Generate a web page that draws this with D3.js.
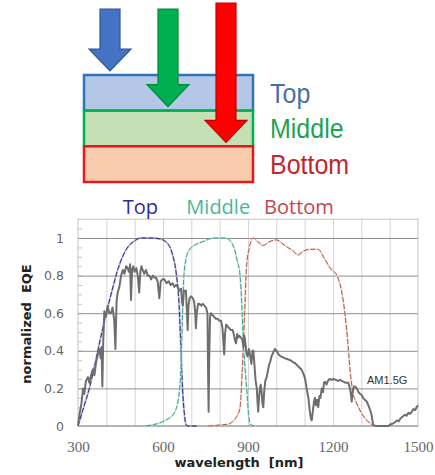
<!DOCTYPE html>
<html lang="en">
	<head>
		<meta charset="utf-8">
		<title>Triple junction EQE</title>
		<script type="text/javascript" src="https://cdn.jsdelivr.net/npm/d3@7"></script>
		<style type="text/css">
			body { margin: 0; background: #fff; }
			svg { display: block; }
		</style>
	</head>
	<body>

		<div id="chart"></div>

		<script type="text/javascript">

		// layers of the cell
		var layers = ["Top", "Middle", "Bottom"]

		// axis ticks
		var wavelengthTicks = [300, 600, 900, 1200, 1500]
		var eqeTicks = [0, 0.2, 0.4, 0.6, 0.8, 1]

		// normalized EQE of each sub cell, [nm, value]
		var topEQE = [[300,0],[320,0.1],[340,0.2],[360,0.33],[380,0.47],[400,0.6],[420,0.72],[440,0.83],
			[460,0.91],[480,0.96],[500,0.985],[520,1],[560,1],[590,0.995],[610,0.98],[625,0.95],[634,0.91],
			[646,0.82],[657,0.64],[663,0.42],[669,0.2],[675,0.07],[682,0.005],[690,0],[720,0]]

		var middleEQE = [[540,0],[560,0.005],[595,0.02],[620,0.04],[640,0.07],[655,0.15],[663,0.3],[668,0.55],
			[673,0.78],[680,0.88],[690,0.93],[710,0.96],[740,0.98],[780,1],[820,1],[840,0.98],[850,0.95],
			[862,0.88],[872,0.8],[878,0.65],[883,0.46],[890,0.3],[896,0.19],[902,0.06],[910,0.005],[930,0]]

		var bottomEQE = [[760,0],[800,0.005],[830,0.01],[860,0.05],[872,0.1],[880,0.3],[888,0.6],[895,0.85],
			[905,0.95],[918,1],[935,0.98],[953,0.96],[975,0.98],[1000,0.99],[1030,0.96],[1060,0.93],[1076,0.91],
			[1095,0.93],[1120,0.94],[1147,0.94],[1170,0.89],[1190,0.84],[1214,0.8],[1230,0.72],[1242,0.6],
			[1252,0.45],[1260,0.3],[1270,0.18],[1284,0.12],[1300,0.07],[1320,0.03],[1340,0.005],[1360,0]]

		// AM1.5G spectrum, [nm, value]
		var am15g = [[300,0],[305,0.06],[312,0.12],[318,0.2],[322,0.17],[328,0.24],[335,0.26],[340,0.23],[346,0.27],
			[352,0.3],[358,0.27],[364,0.34],[370,0.38],[375,0.41],[380,0.36],[383,0.42],[386,0.21],[389,0.45],
			[393,0.61],[398,0.58],[405,0.64],[410,0.6],[416,0.6],[422,0.63],[428,0.56],[432,0.41],[436,0.66],
			[440,0.71],[446,0.74],[452,0.8],[458,0.83],[464,0.81],[470,0.85],[475,0.84],[480,0.82],[484,0.86],
			[487,0.67],[491,0.83],[495,0.85],[500,0.82],[506,0.84],[511,0.8],[516,0.71],[520,0.82],[524,0.85],
			[528,0.83],[534,0.81],[540,0.83],[546,0.8],[552,0.8],[558,0.78],[564,0.8],[570,0.79],[575,0.79],
			[581,0.77],[587,0.68],[592,0.77],[598,0.78],[605,0.78],[612,0.76],[620,0.77],[627,0.75],[634,0.76],
			[640,0.74],[646,0.75],[652,0.74],[658,0.72],[664,0.73],[667,0.66],[670,0.64],[674,0.72],[681,0.72],
			[684,0.62],[687,0.51],[690,0.64],[694,0.68],[699,0.69],[705,0.68],[710,0.66],[714,0.6],[716,0.52],
			[719,0.6],[724,0.65],[728,0.65],[735,0.64],[740,0.65],[746,0.64],[752,0.63],[757,0.6],[759,0.3],
			[761,0.076],[763,0.35],[766,0.58],[769,0.6],[775,0.59],[781,0.58],[787,0.57],[793,0.57],[799,0.56],
			[805,0.56],[810,0.52],[813,0.45],[816,0.38],[819,0.49],[823,0.54],[828,0.53],[834,0.52],[840,0.51],
			[846,0.51],[851,0.48],[855,0.45],[858,0.44],[862,0.49],[865,0.47],[869,0.48],[875,0.47],[880,0.46],
			[884,0.42],[887,0.48],[891,0.44],[895,0.38],[899,0.37],[903,0.41],[907,0.38],[912,0.33],[916,0.4],
			[919,0.4],[923,0.32],[927,0.24],[931,0.2],[934,0.12],[936,0.076],[939,0.15],[942,0.2],[945,0.22],
			[948,0.18],[951,0.12],[954,0.1],[957,0.18],[961,0.24],[966,0.26],[971,0.3],[975,0.33],[978,0.34],
			[983,0.37],[989,0.39],[995,0.41],[1001,0.4],[1008,0.38],[1016,0.37],[1024,0.365],[1031,0.36],
			[1040,0.355],[1050,0.35],[1058,0.34],[1066,0.335],[1075,0.32],[1082,0.31],[1089,0.3],[1095,0.28],
			[1101,0.255],[1107,0.2],[1113,0.15],[1118,0.08],[1122,0.04],[1125,0.03],[1129,0.08],[1133,0.13],
			[1136,0.15],[1140,0.11],[1144,0.14],[1148,0.1],[1152,0.16],[1156,0.15],[1160,0.2],[1165,0.18],
			[1168,0.23],[1172,0.235],[1177,0.22],[1182,0.24],[1188,0.25],[1195,0.245],[1202,0.25],[1210,0.245],
			[1218,0.24],[1225,0.245],[1231,0.24],[1238,0.235],[1245,0.23],[1254,0.23],[1260,0.2],[1264,0.16],
			[1266,0.13],[1269,0.18],[1274,0.21],[1278,0.21],[1284,0.2],[1290,0.18],[1296,0.17],[1301,0.165],
			[1306,0.15],[1312,0.14],[1319,0.13],[1325,0.11],[1331,0.085],[1336,0.06],[1339,0.03],[1342,0.005],
			[1350,0],[1395,0],[1402,0.008],[1410,0.012],[1419,0.02],[1426,0.03],[1432,0.025],[1438,0.04],
			[1446,0.05],[1454,0.06],[1460,0.055],[1466,0.07],[1472,0.065],[1478,0.076],[1484,0.09],[1490,0.085],
			[1495,0.1],[1500,0.11]]

		drawChart()

		function drawChart(){

			var w = 435
			var h = 475

			var svg = d3.select("#chart")
					.append("svg")
					.attr("width", w)
					.attr("height", h)

			// ---------- layer stack sketch ----------
			var fills = ["#b4c7e7", "#c5e0b4", "#f8cbad"]
			var strokes = ["#2e75b6", "#00b050", "#e3191c"]
			var arrowFill = ["#4472c4", "#00b050", "#ff0000"]
			var arrowStroke = ["#2f5597", "#00853b", "#c00000"]
			var labelColor = ["#4a6ea6", "#1fa252", "#c0262b"]

			var layerY = d3.scaleBand()
				.domain(layers)
				.range([75, 182])

			var arrowX = d3.scalePoint()
				.domain(layers)
				.range([110, 226])

			svg.selectAll("rect.layer")
				.data(layers)
				.enter()
				.append("rect")
				.attr("class", "layer")
				.attr("x", 84)
				.attr("y", function(d){ return layerY(d) })
				.attr("width", 169)
				.attr("height", layerY.bandwidth())
				.style("fill", function(d, i){ return fills[i] })
				.style("stroke", function(d, i){ return strokes[i] })
				.style("stroke-width", 2.5)

			svg.selectAll("text.layer")
				.data(layers)
				.enter()
				.append("text")
				.attr("class", "layer")
				.attr("transform", function(d){
					return "translate(270," + (layerY(d) + layerY.bandwidth() - 8) + ") scale(1,1.1)"
				})
				.style("font-family", "Liberation Sans, Arial, sans-serif")
				.style("font-size", "25px")
				.style("fill", function(d, i){ return labelColor[i] })
				.text(function(d){ return d })

			// arrows, each one stops above its own layer
			svg.selectAll("path.arrow")
				.data(layers)
				.enter()
				.append("path")
				.attr("class", "arrow")
				.attr("d", function(d, i){
					var cx = arrowX(d)
					var tip = layerY(d) - 4
					var top = i == 2 ? 3 : 9
					var sw = 10, hw = 21, hh = 22
					return "M" + (cx - sw) + "," + top +
						"L" + (cx + sw) + "," + top +
						"L" + (cx + sw) + "," + (tip - hh) +
						"L" + (cx + hw) + "," + (tip - hh) +
						"L" + cx + "," + tip +
						"L" + (cx - hw) + "," + (tip - hh) +
						"L" + (cx - sw) + "," + (tip - hh) + "Z"
				})
				.style("fill", function(d, i){ return arrowFill[i] })
				.style("stroke", function(d, i){ return arrowStroke[i] })
				.style("stroke-width", 1.2)

			// ---------- EQE plot ----------
			var xScale = d3.scaleLinear()
				.domain([300, 1500])
				.range([78, 418])

			var yScale = d3.scaleLinear()
				.domain([0, 1.1])
				.range([426, 219.2])

			// vertical grid every 100 nm
			svg.append("g")
				.attr("class", "vgrid")
				.attr("transform", "translate(0," + yScale(0) + ")")
				.call(d3.axisBottom(xScale).tickValues(d3.range(400, 1500, 100)).tickSize(yScale(0) - yScale(1.1)).tickFormat(""))
				.call(function(g){
					g.select(".domain").remove()
					g.selectAll("line").attr("transform", "translate(0," + (yScale(1.1) - yScale(0)) + ")").style("stroke", "#d4d4d4")
				})

			// small ticks on the left
			svg.append("g")
				.attr("transform", "translate(" + xScale(300) + ",0)")
				.call(d3.axisRight(yScale).tickValues(d3.range(0.05, 1.1, 0.05)).tickSize(4).tickFormat(""))
				.call(function(g){
					g.select(".domain").remove()
					g.selectAll("line").style("stroke", "#c4c4c4")
				})

			// horizontal grid
			svg.append("g")
				.attr("transform", "translate(" + xScale(300) + ",0)")
				.call(d3.axisRight(yScale).tickValues(eqeTicks.slice(1)).tickSize(xScale(1500) - xScale(300)).tickFormat(""))
				.call(function(g){
					g.select(".domain").remove()
					g.selectAll("line").style("stroke", "#8e8e8e")
				})

			// frame
			svg.append("rect")
				.attr("x", xScale(300))
				.attr("y", yScale(1.1))
				.attr("width", xScale(1500) - xScale(300))
				.attr("height", yScale(0) - yScale(1.1))
				.style("fill", "none")
				.style("stroke", "#c2c2c2")

			svg.append("line")
				.attr("x1", xScale(300)).attr("x2", xScale(1500))
				.attr("y1", yScale(0)).attr("y2", yScale(0))
				.style("stroke", "#888")

			// curves
			var line = d3.line()
				.x(function(d){ return xScale(d[0]) })
				.y(function(d){ return yScale(d[1]) })

			var smooth = d3.line()
				.x(function(d){ return xScale(d[0]) })
				.y(function(d){ return yScale(d[1]) })
				.curve(d3.curveMonotoneX)

			var eqe = [
				{data: topEQE, light: "#8f8fd0", dark: "#2b2b78"},
				{data: middleEQE, light: "#a8e0d8", dark: "#3f9c8e"},
				{data: bottomEQE, light: "#f2c4ae", dark: "#a0604a"}
			]

			eqe.forEach(function(s){
				svg.append("path")
					.attr("d", smooth(s.data))
					.style("fill", "none")
					.style("stroke", s.light)
					.style("stroke-width", 2)
					.style("opacity", 0.6)
				svg.append("path")
					.attr("d", smooth(s.data))
					.style("fill", "none")
					.style("stroke", s.dark)
					.style("stroke-width", 1)
					.style("stroke-dasharray", "5,2")
			})

			svg.append("path")
				.attr("d", line(am15g))
				.style("fill", "none")
				.style("stroke", "#6e6e6e")
				.style("stroke-width", 2)
				.style("stroke-linejoin", "round")

			svg.append("text")
				.attr("x", 367)
				.attr("y", 384)
				.style("font-family", "Liberation Sans, Arial, sans-serif")
				.style("font-size", "11px")
				.style("fill", "#333")
				.text("AM1.5G")

			// axes labels
			var xAxis = d3.axisBottom(xScale)
				.tickValues(wavelengthTicks)
				.tickFormat(d3.format("d"))
				.tickSize(0)
				.tickPadding(15)

			svg.append("g")
				.attr("class", "axis")
				.attr("transform", "translate(0," + yScale(0) + ")")
				.call(xAxis)
				.call(function(g){
					g.select(".domain").remove()
					g.selectAll("text")
						.style("font-family", "Liberation Serif, serif")
						.style("font-size", "15px")
						.style("fill", "#666")
				})

			var yAxis = d3.axisLeft(yScale)
				.tickValues(eqeTicks)
				.tickSize(0)
				.tickPadding(14)
				.tickFormat(function(d){ return d == 0 || d == 1 ? d : d3.format(".1f")(d) })

			svg.append("g")
				.attr("class", "axis")
				.attr("transform", "translate(" + xScale(300) + ",0)")
				.call(yAxis)
				.call(function(g){
					g.select(".domain").remove()
					g.selectAll("text")
						.style("font-family", "DejaVu Sans, sans-serif")
						.style("font-size", "12.5px")
						.style("fill", "#666")
				})

			svg.append("text")
				.attr("x", 239)
				.attr("y", 467)
				.attr("text-anchor", "middle")
				.style("font-family", "DejaVu Sans, sans-serif")
				.style("font-weight", "bold")
				.style("font-size", "13px")
				.style("fill", "#222")
				.style("white-space", "pre")
				.text("wavelength  [nm]")

			svg.append("text")
				.attr("transform", "translate(31,324) rotate(-90)")
				.attr("text-anchor", "middle")
				.style("font-family", "DejaVu Sans, sans-serif")
				.style("font-weight", "bold")
				.style("font-size", "13px")
				.style("fill", "#222")
				.style("white-space", "pre")
				.text("normalized  EQE")

			// sub cell titles above the plot
			var titleX = [520, 795, 1080]
			var titleColor = ["#2c2c96", "#48b892", "#c24550"]
			svg.selectAll("text.title")
				.data(layers)
				.enter()
				.append("text")
				.attr("class", "title")
				.attr("x", function(d, i){ return xScale(titleX[i]) })
				.attr("y", 214)
				.attr("text-anchor", "middle")
				.style("font-family", "Open Sans, sans-serif")
				.style("font-size", "20px")
				.style("fill", function(d, i){ return titleColor[i] })
				.text(function(d){ return d })
		}

		</script>
	</body>
</html>
